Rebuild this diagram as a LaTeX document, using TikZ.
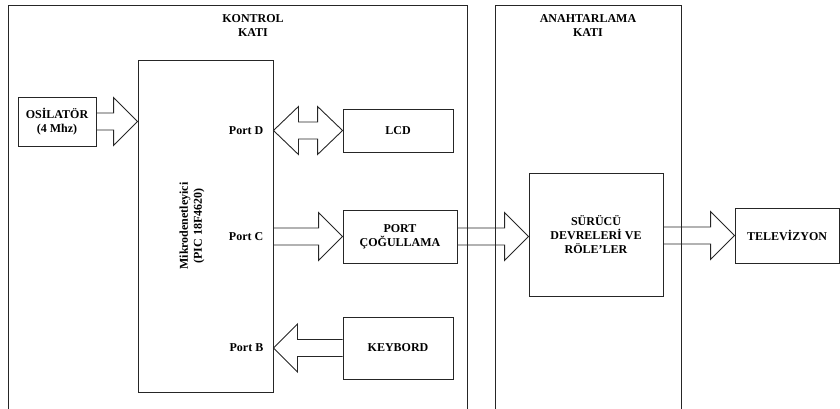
\documentclass[tikz,border=0pt]{standalone}
\usepackage{fontspec}
\setmainfont{Liberation Serif}
\usetikzlibrary{calc}
\newcommand{\blkarrow}[2]{%
  \coordinate (nk) at ($(#2)!24pt!(#1)$);
  \draw[line] ($(#1)!8.5pt!90:(#2)$) -- ($(nk)!8.5pt!90:(#2)$) -- ($(nk)!24pt!90:(#2)$)
    -- (#2) -- ($(nk)!24pt!-90:(#2)$) -- ($(nk)!8.5pt!-90:(#2)$) -- ($(#1)!8.5pt!-90:(#2)$);
}
\newcommand{\dblarrow}[2]{%
  \coordinate (nka) at ($(#1)!25pt!(#2)$);
  \coordinate (nkb) at ($(#2)!25pt!(#1)$);
  \draw[line] (#1) -- ($(nka)!24pt!90:(#2)$) -- ($(nka)!8.5pt!90:(#2)$) -- ($(nkb)!8.5pt!90:(#2)$)
    -- ($(nkb)!24pt!90:(#2)$) -- (#2) -- ($(nkb)!24pt!-90:(#2)$) -- ($(nkb)!8.5pt!-90:(#2)$)
    -- ($(nka)!8.5pt!-90:(#2)$) -- ($(nka)!24pt!-90:(#2)$) -- cycle;
}

\begin{document}
\begin{tikzpicture}[x=1pt,y=-1pt,
    line/.style={draw=black!85,line width=0.9pt},
    txt/.style={font=\bfseries\fontsize{12}{14}\selectfont,align=center,inner sep=0pt},
    blk/.style={line,txt,rectangle}]
  \useasboundingbox (0,0) rectangle (840,408);

  %layer frames
  \node[blk,minimum width=459pt,minimum height=410pt] (ctrl) at (237.5,210) {};
  \node[blk,minimum width=186pt,minimum height=410pt] (anah) at (588,210) {};
  \node[txt] (ctrllbl) at (253,26) {KONTROL\\KATI};
  \node[txt] (anahlbl) at (588,26) {ANAHTARLAMA\\KATI};

  %blocks
  \node[blk,minimum width=135pt,minimum height=332pt] (mcu) at (205.5,226) {};
  \node[txt,rotate=90] (mcutxt) at (192,226) {Mikrodenetleyici\\(PIC 18F4620)};
  \node[blk,minimum width=78pt,minimum height=49pt] (osc) at (57,121.5) {OSİLATÖR\\(4 Mhz)};
  \node[blk,minimum width=110pt,minimum height=43pt] (lcd) at (398,130.5) {LCD};
  \node[blk,minimum width=114pt,minimum height=53pt] (port) at (400,236.5) {PORT\\ÇOĞULLAMA};
  \node[blk,minimum width=110pt,minimum height=62pt] (kbd) at (398,348) {KEYBORD};
  \node[blk,minimum width=134pt,minimum height=123pt] (sur) at (596,234.5) {SÜRÜCÜ\\DEVRELERİ VE\\RÖLE'LER};
  \node[blk,minimum width=104pt,minimum height=55pt] (tv) at (787,235.5) {TELEVİZYON};

  %port ends on the controller
  \coordinate (pd) at (mcu.east |- lcd.west);
  \coordinate (pc) at (mcu.east |- port.west);
  \coordinate (pb) at (mcu.east |- kbd.west);
  \coordinate (oscin) at (mcu.west |- osc.east);
  \coordinate (surin) at (sur.west |- port.east);
  \coordinate (surout) at (sur.east |- tv.west);
  \node[txt,anchor=east] (pdlbl) at ($(pd)+(-10,0)$) {Port D};
  \node[txt,anchor=east] (pclbl) at ($(pc)+(-10,0)$) {Port C};
  \node[txt,anchor=east] (pblbl) at ($(pb)+(-10,0)$) {Port B};

  %block arrows
  \blkarrow{osc.east}{oscin}
  \dblarrow{pd}{lcd.west}
  \blkarrow{pc}{port.west}
  \blkarrow{kbd.west}{pb}
  \blkarrow{port.east}{surin}
  \blkarrow{surout}{tv.west}
\end{tikzpicture}
\end{document}
